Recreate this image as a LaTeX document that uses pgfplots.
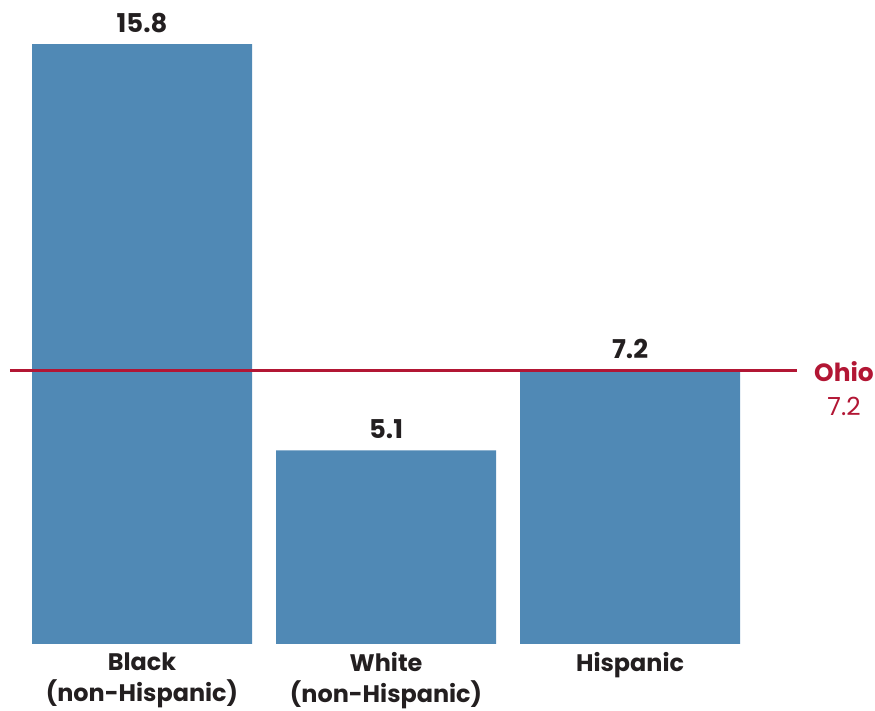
\documentclass[border=0pt]{standalone}
\usepackage{fontspec}
\setmainfont{Poppins}
\usepackage{pgfplots}
\pgfplotsset{compat=1.18}
\definecolor{barblue}{RGB}{80,137,181}
\definecolor{ohiored}{RGB}{178,22,52}
\definecolor{labeldark}{RGB}{35,31,32}
\begin{document}
\begin{tikzpicture}[x=1bp,y=1bp]
\useasboundingbox (-10,-67) rectangle (865,644);
\begin{axis}[
  at={(0,0)}, anchor=south west,
  scale only axis,
  width=787bp, height=644bp,
  xmin=-0.541, xmax=2.684,
  ymin=0, ymax=16.96,
  axis line style={draw=none},
  major tick length=0pt,
  ytick=\empty,
  ybar, bar width=220bp,
  bar shift=0pt,
  xtick=data,
  xticklabels={{Black\\(non-Hispanic)},{White\\(non-Hispanic)},{Hispanic}},
  xticklabel style={font=\fontsize{24}{31}\selectfont\bfseries, align=center, text=labeldark, anchor=north, yshift=-5bp},
  clip=false,
  nodes near coords,
  nodes near coords style={font=\fontsize{26}{30}\selectfont\bfseries, text=labeldark, anchor=south, yshift=8bp},
  point meta=explicit symbolic,
]
\addplot[fill=barblue, draw=none] coordinates {(0,15.8)[15.8] (1,5.1)[5.1] (2,7.2)[7.2]};
\addplot[sharp plot, ohiored, line width=2.5bp, nodes near coords={}, forget plot] coordinates {(-0.541,7.2) (2.684,7.2)};
\node[anchor=west, align=center, text=ohiored, font=\fontsize{25}{34}\selectfont, inner sep=0pt] at (axis cs:2.684,7.2) [xshift=17bp, yshift=-18bp] {\textbf{Ohio}\\7.2};
\end{axis}
\end{tikzpicture}
\end{document}
